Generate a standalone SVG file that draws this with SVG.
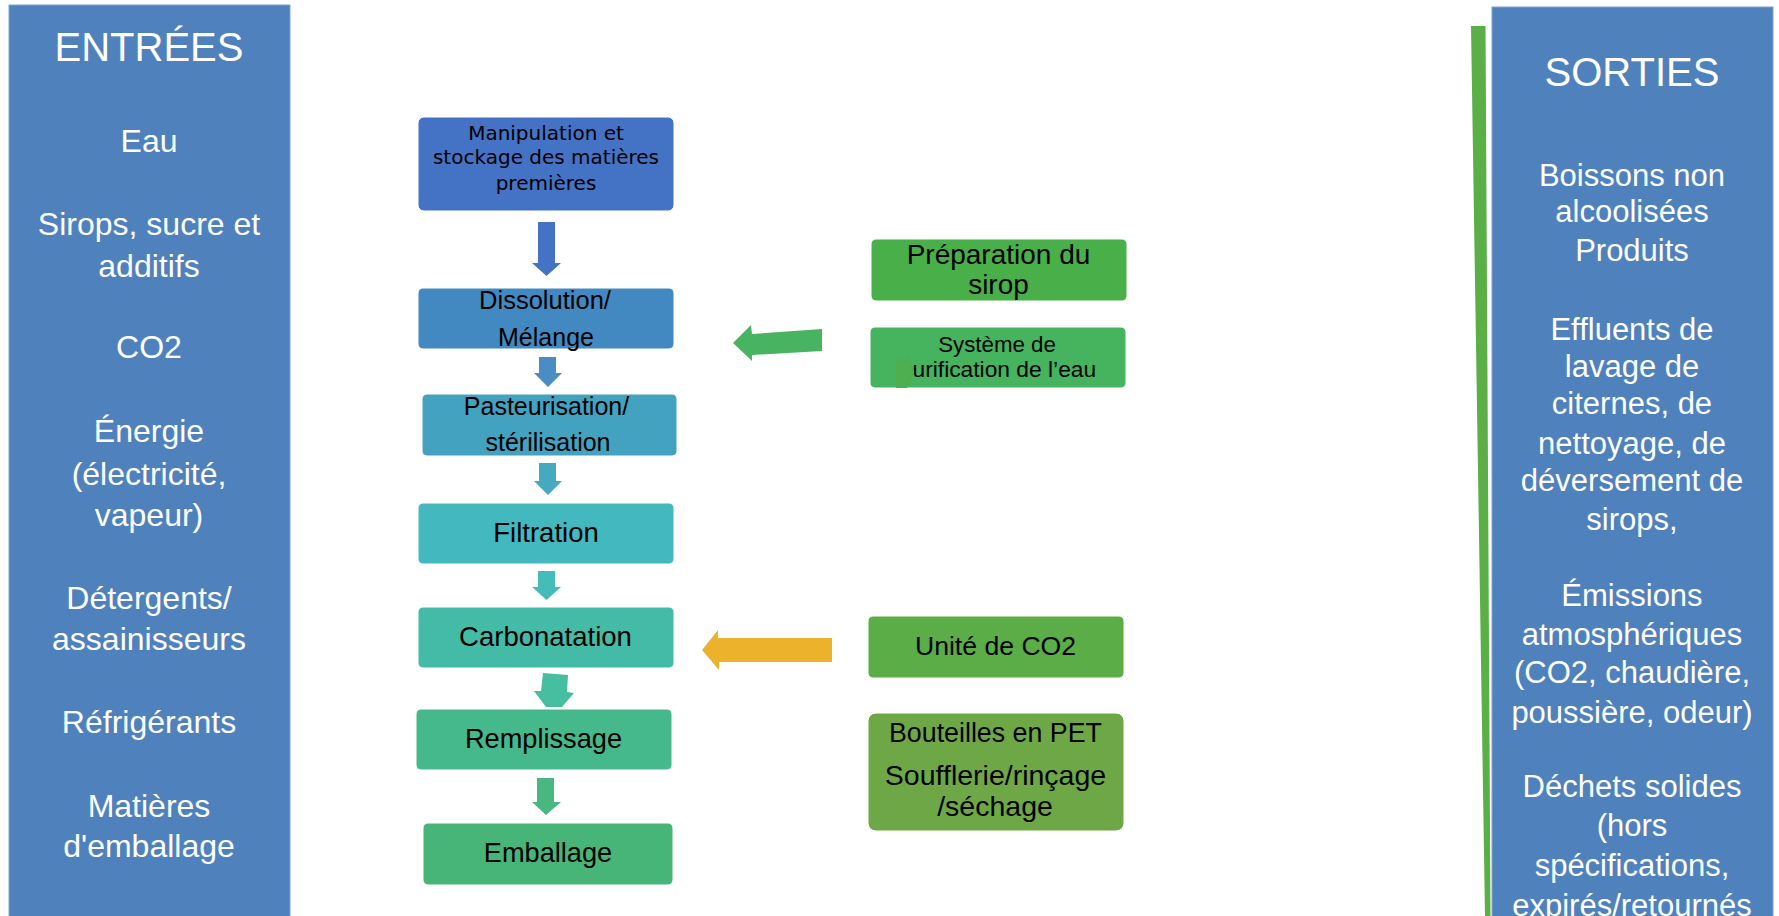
<svg xmlns="http://www.w3.org/2000/svg" width="1779" height="916" viewBox="0 0 1779 916">
<style>
.panel{fill:#4F81BD;stroke:#7FA3D0;stroke-width:1}
.pt{font-family:"Liberation Sans",Arial,sans-serif;fill:#FFFFFF;text-anchor:middle}
.ptl{font-size:32px}
.ptr{font-size:31px}
.ttl{font-size:40px}
.box{stroke:#FFFFFF;stroke-width:1}
.bt{font-family:"Liberation Sans",Arial,sans-serif;fill:#000000;text-anchor:middle}
.bt1{font-family:"DejaVu Sans",sans-serif;fill:#000000;text-anchor:middle;font-size:20px}
</style>
<rect width="1779" height="916" fill="#FFFFFF"/>

<g id="entrees">
<rect class="panel" x="9" y="5" width="281" height="915"/>
<text class="pt ttl" x="149" y="61">ENTRÉES</text>
<text class="pt ptl" x="149" y="152">Eau</text>
<text class="pt ptl" x="149" y="235">Sirops, sucre et</text>
<text class="pt ptl" x="149" y="277">additifs</text>
<text class="pt ptl" x="149" y="358">CO2</text>
<text class="pt ptl" x="149" y="442">Énergie</text>
<text class="pt ptl" x="149" y="485">(électricité,</text>
<text class="pt ptl" x="149" y="526">vapeur)</text>
<text class="pt ptl" x="149" y="609">Détergents/</text>
<text class="pt ptl" x="149" y="650">assainisseurs</text>
<text class="pt ptl" x="149" y="733">Réfrigérants</text>
<text class="pt ptl" x="149" y="817">Matières</text>
<text class="pt ptl" x="149" y="857">d'emballage</text>
</g>

<g id="sorties">
<rect class="panel" x="1492" y="7" width="281" height="913"/>
<text class="pt ttl" x="1632" y="86">SORTIES</text>
<text class="pt ptr" x="1632" y="186">Boissons non</text>
<text class="pt ptr" x="1632" y="222">alcoolisées</text>
<text class="pt ptr" x="1632" y="261">Produits</text>
<text class="pt ptr" x="1632" y="340">Effluents de</text>
<text class="pt ptr" x="1632" y="377">lavage de</text>
<text class="pt ptr" x="1632" y="414">citernes, de</text>
<text class="pt ptr" x="1632" y="454">nettoyage, de</text>
<text class="pt ptr" x="1632" y="491">déversement de</text>
<text class="pt ptr" x="1632" y="530">sirops,</text>
<text class="pt ptr" x="1632" y="606">Émissions</text>
<text class="pt ptr" x="1632" y="645">atmosphériques</text>
<text class="pt ptr" x="1632" y="683">(CO2, chaudière,</text>
<text class="pt ptr" x="1632" y="723">poussière, odeur)</text>
<text class="pt ptr" x="1632" y="797">Déchets solides</text>
<text class="pt ptr" x="1632" y="836">(hors</text>
<text class="pt ptr" x="1632" y="876">spécifications,</text>
<text class="pt ptr" x="1632" y="916">expirés/retournés</text>
</g>

<g id="separator">
<polygon points="1471,26 1485.5,26 1490.5,916 1485,916" fill="#5AAF46"/>
</g>

<g id="n1">
<rect class="box" x="418" y="117" width="256" height="94" rx="6" fill="#4472C4"/>
<text class="bt1" x="546" y="140">Manipulation et</text>
<text class="bt1" x="546" y="164">stockage des matières</text>
<text class="bt1" x="546" y="190">premières</text>
</g>
<g id="n2">
<rect class="box" x="418" y="288" width="256" height="61" rx="5" fill="#4289C2"/>
<text class="bt" x="545" y="309" font-size="25.5">Dissolution/</text>
<text class="bt" x="546" y="346" font-size="25">Mélange</text>
</g>
<g id="n3">
<rect class="box" x="422" y="394" width="255" height="62" rx="5" fill="#44A2C1"/>
<text class="bt" x="546.5" y="415" font-size="25">Pasteurisation/</text>
<text class="bt" x="548" y="451" font-size="25">stérilisation</text>
</g>
<g id="n4">
<rect class="box" x="418" y="503" width="256" height="61" rx="5" fill="#43B8BE"/>
<text class="bt" x="546" y="542" font-size="27.5">Filtration</text>
</g>
<g id="n5">
<rect class="box" x="418" y="607" width="256" height="61" rx="5" fill="#44BBA7"/>
<text class="bt" x="545.5" y="646" font-size="27.5">Carbonatation</text>
</g>
<g id="n6">
<rect class="box" x="416" y="709" width="256" height="61" rx="5" fill="#45B98B"/>
<text class="bt" x="543.5" y="748" font-size="27.2">Remplissage</text>
</g>
<g id="n7">
<rect class="box" x="423" y="823" width="250" height="62" rx="5" fill="#47B577"/>
<text class="bt" x="548" y="862" font-size="27.2">Emballage</text>
</g>

<g id="n8">
<rect class="box" x="871" y="239" width="256" height="62" rx="5" fill="#49AF48"/>
<text class="bt" x="998.5" y="264" font-size="28">Préparation du</text>
<text class="bt" x="998.5" y="294" font-size="28">sirop</text>
</g>
<g id="n9">
<rect class="box" x="870" y="327" width="256" height="61" rx="5" fill="#46B35E"/>
<text class="bt" x="997" y="352" font-size="22.3">Système de</text>
<text class="bt" x="998" y="377" font-size="22.8">purification de l’eau</text>
<polygon points="896,359 907,359 907,355 914,372 907,388 896,388" fill="#4DAF4F"/>
</g>
<g id="n10">
<rect class="box" x="868" y="616" width="256" height="62" rx="5" fill="#5AAD47"/>
<text class="bt" x="995.5" y="655" font-size="26.6">Unité de CO2</text>
</g>
<g id="n11">
<rect class="box" x="868" y="713" width="256" height="118" rx="8" fill="#6EA846"/>
<text class="bt" x="995.5" y="742" font-size="26.8">Bouteilles en PET</text>
<text class="bt" x="995.5" y="785" font-size="28.5">Soufflerie/rinçage</text>
<text class="bt" x="995" y="816" font-size="28.5">/séchage</text>
</g>

<g id="connectors">
<polygon points="538,222 555,222 555,263 561,263 546.5,276 532,263 538,263" fill="#4472C4"/>
<polygon points="539,357 556,357 556,373 562,373 548,387 534,373 539,373" fill="#4A8DC4"/>
<polygon points="539,463 556,463 556,481 562,481 548,495 534,481 539,481" fill="#44A9C1"/>
<polygon points="538,571 555,571 555,587 561,587 546.5,600 532,587 538,587" fill="#45BCB8"/>
<polygon points="543,673 568,675 567,692 574,693 562,707 546,707 534,691 541,691" fill="#47BE9F"/>
<polygon points="537,778 554,778 554,802 561,802 546,815 532,802 537,802" fill="#48B880"/>
<polygon points="822,329 822,351 752,355 752,361 733,343 751,325 752,334" fill="#48B462"/>
<polygon points="832,638 832,662 719,662 719,670 702,650 718,630 718,638" fill="#EDB22C"/>
</g>
</svg>
